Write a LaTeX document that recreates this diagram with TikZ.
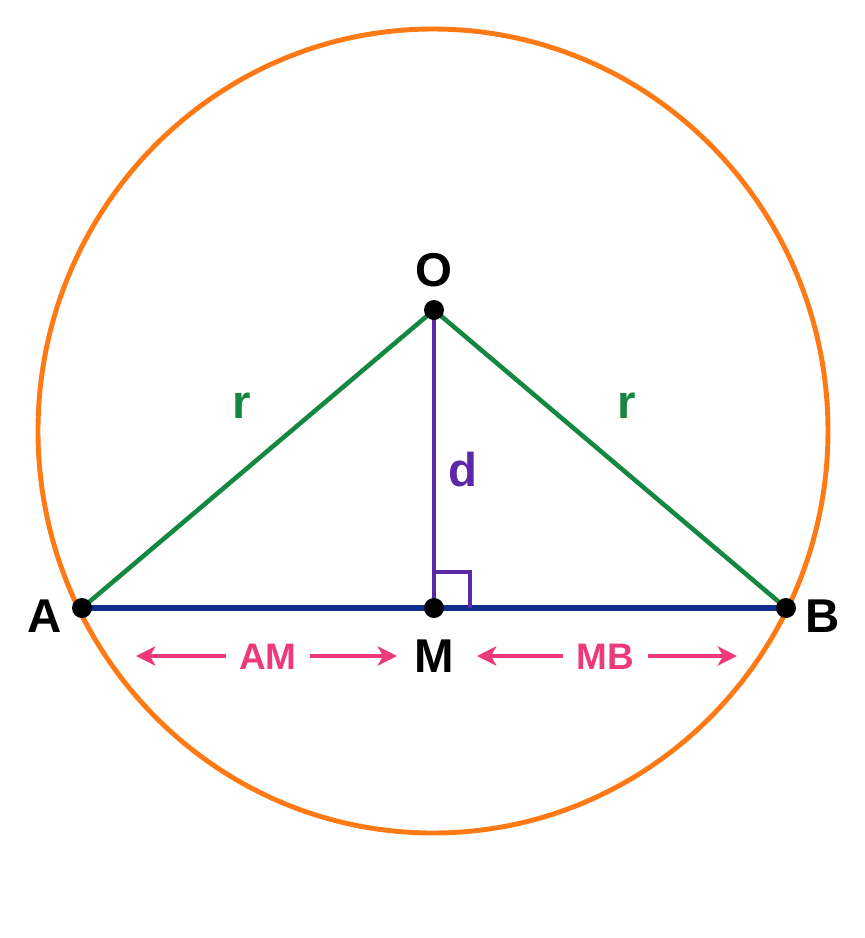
\documentclass[tikz,border=0pt]{standalone}
\usepackage{fontspec}
\setmainfont{Liberation Sans}
\usetikzlibrary{arrows.meta}
\definecolor{circorange}{RGB}{255,122,20}
\definecolor{radgreen}{RGB}{20,135,65}
\definecolor{chordblue}{RGB}{16,44,140}
\definecolor{distpurple}{RGB}{92,40,168}
\definecolor{halfpink}{RGB}{238,58,124}
\tikzset{
  pt/.style={fill=black},
  ptlabel/.style={font=\fontsize{27}{31}\selectfont\bfseries},
  seglabel/.style={font=\fontsize{27}{31}\selectfont\bfseries},
  halflabel/.style={font=\fontsize{21}{25}\selectfont\bfseries,text=halfpink},
  halfarrow/.style={halfpink,line width=1.9pt,-{Stealth[length=11pt,width=11pt,inset=3pt]}}
}
\begin{document}
\begin{tikzpicture}[x=0.02cm,y=-0.02cm]
  \useasboundingbox (0,0) rectangle (865,938);
  \coordinate (O) at (434,310);
  \coordinate (A) at (82,608);
  \coordinate (B) at (786,608);
  \coordinate (M) at (434,608);
  \coordinate (C) at (433,431);
  % circle
  \draw[circorange,line width=2.8pt] (C) ellipse [x radius=395, y radius=402];
  % radii, chord and distance
  \draw[radgreen,line width=2.6pt] (A) -- (O) -- (B);
  \draw[chordblue,line width=3.2pt] (A) -- (B);
  \draw[distpurple,line width=2pt] (O) -- (M);
  \draw[distpurple,line width=2pt] (434,572) -- (470,572) -- (470,608);
  \foreach \p in {O,A,B,M} \fill[pt] (\p) circle (0.2cm);
  % labels
  \node[ptlabel] at (434,270) (Olbl) {O};
  \node[ptlabel] at (45,616) (Albl) {A};
  \node[ptlabel] at (823,616) (Blbl) {B};
  \node[ptlabel] at (434,656) (Mlbl) {M};
  \node[seglabel,text=radgreen] at (242,406) (rA) {r};
  \node[seglabel,text=radgreen] at (627,406) (rB) {r};
  \node[seglabel,text=distpurple] at (463,470) (dlbl) {d};
  \node[halflabel] at (268,657) (AMlbl) {AM};
  \node[halflabel] at (605,657) (MBlbl) {MB};
  % half-chord arrows
  \coordinate (amL) at (136,656); \coordinate (amLs) at (226,656);
  \coordinate (amR) at (397,656); \coordinate (amRs) at (310,656);
  \coordinate (mbL) at (477,656); \coordinate (mbLs) at (563,656);
  \coordinate (mbR) at (737,656); \coordinate (mbRs) at (648,656);
  \draw[halfarrow] (amLs) -- (amL); \draw[halfarrow] (amRs) -- (amR);
  \draw[halfarrow] (mbLs) -- (mbL); \draw[halfarrow] (mbRs) -- (mbR);
\end{tikzpicture}
\end{document}
